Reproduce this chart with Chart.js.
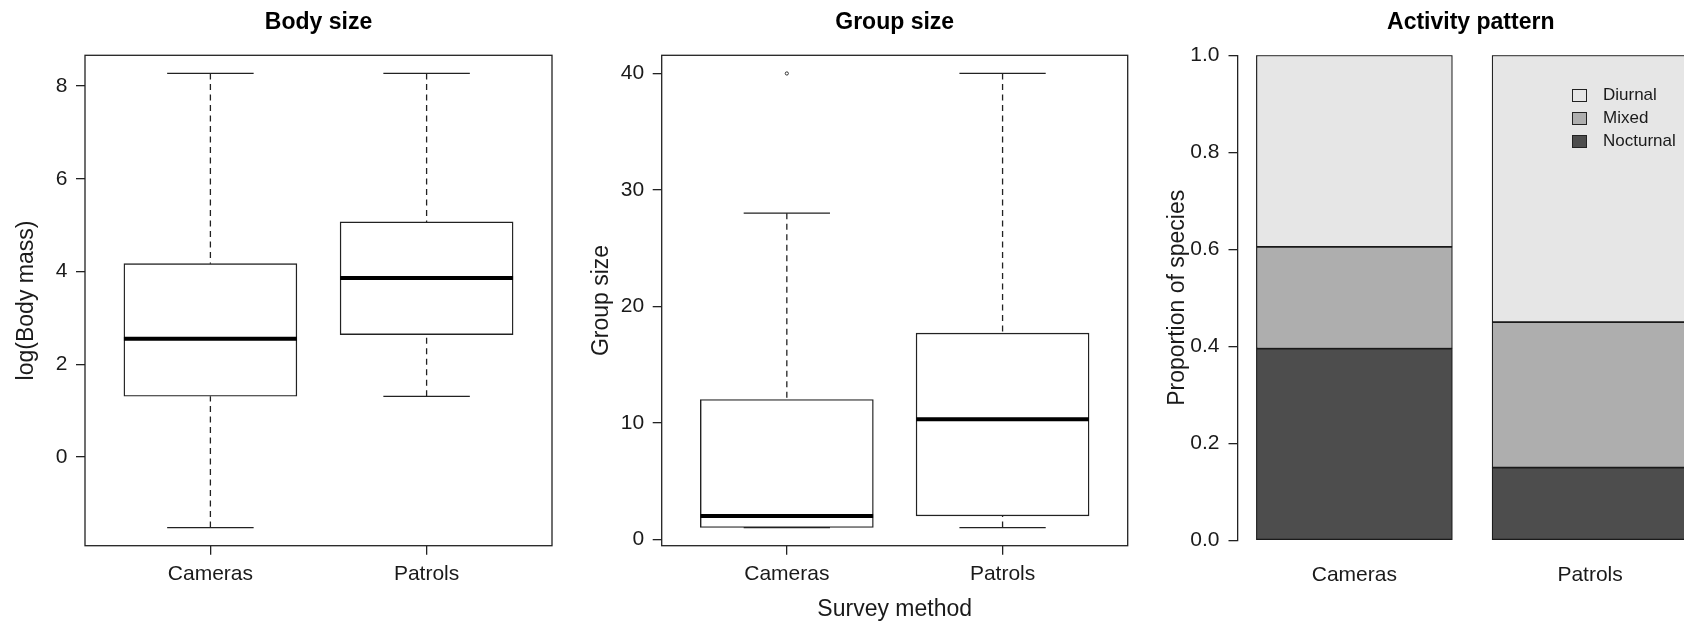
<!DOCTYPE html>
<html>
<head>
<meta charset="utf-8">
<script src="https://cdn.jsdelivr.net/npm/chart.js@4.4.1/dist/chart.umd.min.js"></script>
<style>
  html, body { margin: 0; padding: 0; background: #fff; overflow: hidden; width: 1684px; height: 623px; position: relative; }
  canvas { position: absolute; top: 0; }
  #legend { position: absolute; left: 1572px; top: 83.5px; font: 17px "Liberation Sans", Arial, sans-serif; color: #1a1a1a; }
  .row { height: 23px; display: flex; align-items: center; }
  .sw { width: 13px; height: 11px; border: 1px solid #222; margin-right: 16px; }
</style>
</head>
<body>
<canvas id="graph1" width="570" height="623" style="left:0px"></canvas>
<canvas id="graph2" width="570" height="623" style="left:570px"></canvas>
<canvas id="graph3" width="564" height="623" style="left:1140px"></canvas>
<div id="legend"></div>
<script>
const groups = ["Cameras", "Patrols"];

// Body size: whisker low, q1, median, q3, whisker high
const body_low = [-1.52, 1.31];
const body_q1 = [1.31, 2.64];
const body_med = [2.55, 3.86];
const body_q3 = [4.17, 5.07];
const body_high = [8.27, 8.27];
const body_ticks = [0, 2, 4, 6, 8];

// Group size
const grp_low = [1, 1];
const grp_q1 = [1, 2];
const grp_med = [2, 10.3];
const grp_q3 = [12, 17.7];
const grp_high = [28, 40];
const grp_out = [40, null];
const grp_ticks = [0, 10, 20, 30, 40];

// Activity pattern (proportions)
const activity = ["Diurnal", "Mixed", "Nocturnal"];
const diurnal = [0.395, 0.55];
const mixed = [0.21, 0.30];
const nocturnal = [0.395, 0.15];
const prop_ticks = [0, 0.2, 0.4, 0.6, 0.8, 1.0];

const shades = { Diurnal: "#e6e6e6", Mixed: "#aeaeae", Nocturnal: "#4d4d4d" };
const ink = "#1a1a1a";

Chart.defaults.font.family = '"Liberation Sans", Arial, sans-serif';
Chart.defaults.color = ink;

const frame = {
  id: "frame",
  afterDatasetsDraw(chart) {
    const a = chart.chartArea;
    const ctx = chart.ctx;
    ctx.save();
    ctx.strokeStyle = "#222";
    ctx.lineWidth = 1.3;
    ctx.strokeRect(a.left, a.top, a.right - a.left, a.bottom - a.top);
    ctx.restore();
  }
};

// R style axis range: data range plus 4% each side
function rng(lo, hi) {
  var d = (hi - lo) * 0.04;
  return [lo - d, hi + d];
}

function box_chart(id, low, q1, med, q3, high, out, yticks, title, ytitle, xtitle, yw, padR, ytpad) {
  var boxes = [], meds = [], whisk = [], caps = [], pts = [];
  for (var i = 0; i < groups.length; i++) {
    var c = i + 1;
    boxes.push({ x: c, y: [q1[i], q3[i]] });
    meds.push({ x: c - 0.4, y: med[i] }, { x: c + 0.4, y: med[i] }, { x: c, y: null });
    whisk.push({ x: c, y: high[i] }, { x: c, y: q3[i] }, { x: c, y: null },
               { x: c, y: low[i] }, { x: c, y: q1[i] }, { x: c, y: null });
    caps.push({ x: c - 0.2, y: high[i] }, { x: c + 0.2, y: high[i] }, { x: c, y: null },
              { x: c - 0.2, y: low[i] }, { x: c + 0.2, y: low[i] }, { x: c, y: null });
    if (out && out[i] != null) pts.push({ x: c, y: out[i] });
  }
  var all = low.concat(high).concat(out ? out.filter(v => v != null) : []);
  var yr = rng(Math.min.apply(null, all), Math.max.apply(null, all));

  new Chart(document.getElementById(id), {
    type: "bar",
    data: {
      datasets: [
        { type: "line", data: meds, borderColor: "#000", borderWidth: 4, pointRadius: 0, spanGaps: false, order: 0 },
        { type: "line", data: caps, borderColor: "#222", borderWidth: 1.3, pointRadius: 0, spanGaps: false, order: 1 },
        { type: "line", data: whisk, borderColor: "#222", borderWidth: 1.3, borderDash: [6, 4.5], pointRadius: 0, spanGaps: false, order: 1 },
        { type: "scatter", data: pts, pointRadius: 1.6, borderWidth: 1, borderColor: "#333", backgroundColor: "rgba(0,0,0,0)", order: 1 },
        { data: boxes, backgroundColor: "#fff", borderColor: "#222", borderWidth: 1.4, borderSkipped: false, barThickness: 173, order: 5 }
      ]
    },
    options: {
      responsive: false,
      animation: false,
      layout: { padding: { left: 0, right: padR, top: 0, bottom: 0 } },
      plugins: {
        legend: { display: false },
        tooltip: { enabled: false },
        title: { display: true, text: title, fullSize: false, color: "#000",
                 font: { size: 23, weight: "bold" }, padding: { top: 8.7, bottom: 19 } }
      },
      scales: {
        x: {
          type: "linear", min: 0.42, max: 2.58, offset: false,
          afterBuildTicks: s => { s.ticks = groups.map((g, i) => ({ value: i + 1 })); },
          afterFit: s => { s.height = 77.3; },
          ticks: { callback: v => groups[v - 1], font: { size: 21 }, padding: 7, maxRotation: 0 },
          grid: { offset: false, drawOnChartArea: false, drawTicks: true, tickLength: 9, color: "#222", lineWidth: 1.3 },
          border: { display: false },
          title: { display: !!xtitle, text: xtitle || "", font: { size: 23 }, padding: { top: 0, bottom: -0.8 } }
        },
        y: {
          min: yr[0], max: yr[1],
          afterBuildTicks: s => { s.ticks = yticks.map(v => ({ value: v })); },
          afterFit: s => { s.width = yw; },
          ticks: { font: { size: 21 }, padding: 8.5 },
          grid: { drawOnChartArea: false, drawTicks: true, tickLength: 9, color: "#222", lineWidth: 1.3 },
          border: { display: false },
          title: { display: true, text: ytitle, font: { size: 23 }, padding: { top: ytpad, bottom: 0 } }
        }
      }
    },
    plugins: [frame]
  });
}

box_chart("graph1", body_low, body_q1, body_med, body_q3, body_high, null, body_ticks,
          "Body size", "log(Body mass)", null, 85, 18, 13.2);
box_chart("graph2", grp_low, grp_q1, grp_med, grp_q3, grp_high, grp_out, grp_ticks,
          "Group size", "Group size", "Survey method", 91.7, 12.3, 18.2);

// Activity pattern: stacked proportions, bars at R barplot positions 0.7 and 1.9
const bar_x = [0.7, 1.9];
function stack(vals) { return vals.map((v, i) => ({ x: bar_x[i], y: v })); }

new Chart(document.getElementById("graph3"), {
  type: "bar",
  data: {
    datasets: [
      { label: "Nocturnal", data: stack(nocturnal), backgroundColor: shades.Nocturnal },
      { label: "Mixed", data: stack(mixed), backgroundColor: shades.Mixed },
      { label: "Diurnal", data: stack(diurnal), backgroundColor: shades.Diurnal }
    ].map(d => Object.assign(d, { borderColor: ink, borderWidth: 1.2, borderSkipped: false, barThickness: 196 }))
  },
  options: {
    responsive: false,
    animation: false,
    layout: { padding: 0 },
    plugins: {
      legend: { display: false },
      tooltip: { enabled: false },
      title: { display: true, text: "Activity pattern", fullSize: false, color: "#000",
               font: { size: 23, weight: "bold" }, padding: { top: 8.7, bottom: 19 } }
    },
    scales: {
      x: {
        type: "linear", min: 0.105, max: 2.48, stacked: true, offset: false,
        afterBuildTicks: s => { s.ticks = bar_x.map(v => ({ value: v })); },
        afterFit: s => { s.height = 82.7; },
        ticks: { callback: (v, i) => groups[i], font: { size: 21 }, padding: 14, maxRotation: 0 },
        grid: { display: false, offset: false },
        border: { display: false }
      },
      y: {
        min: 0, max: 1, stacked: true,
        afterBuildTicks: s => { s.ticks = prop_ticks.map(v => ({ value: v })); },
        afterFit: s => { s.width = 97.5; },
        ticks: { callback: v => v.toFixed(1), font: { size: 21 }, padding: 9 },
        grid: { drawOnChartArea: false, drawTicks: true, tickLength: 9, color: "#222", lineWidth: 1.3 },
        border: { display: true, color: "#222", width: 1.3 },
        title: { display: true, text: "Proportion of species", font: { size: 23 }, padding: { top: 23.7, bottom: 0 } }
      }
    }
  }
});

// legend, top right of the activity panel
var lg = document.getElementById("legend");
activity.forEach(function (name) {
  var row = document.createElement("div");
  row.className = "row";
  var sw = document.createElement("span");
  sw.className = "sw";
  sw.style.background = shades[name];
  row.appendChild(sw);
  row.appendChild(document.createTextNode(name));
  lg.appendChild(row);
});
</script>
</body>
</html>
